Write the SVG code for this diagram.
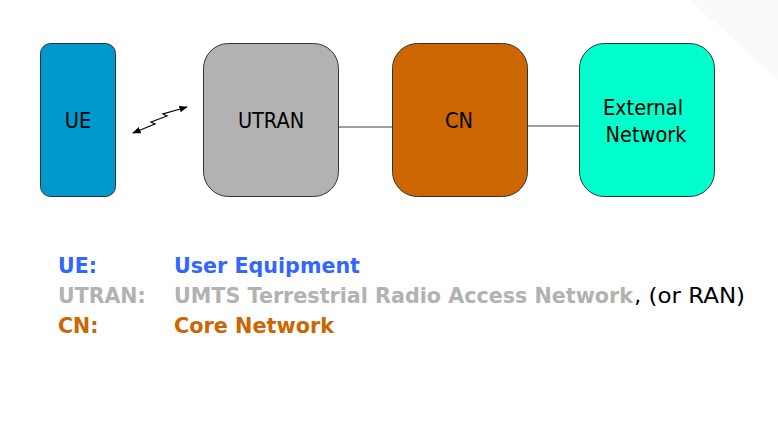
<svg xmlns="http://www.w3.org/2000/svg" width="778" height="423" viewBox="0 0 778 423">
<style>
.box{stroke:#333333;stroke-width:1}
.lbl{font-family:"DejaVu Sans Condensed","DejaVu Sans",Verdana,sans-serif;font-size:21.5px;fill:#000000;text-anchor:middle}
.leg{font-family:"DejaVu Sans",Verdana,sans-serif;font-size:20.5px;font-weight:bold}
.conn{stroke:#808080;stroke-width:1.5;fill:none}
</style>
<defs>
<marker id="ah" viewBox="0 0 10 10" refX="9" refY="5" markerWidth="7" markerHeight="7" orient="auto-start-reverse">
<path d="M0,1 L10,5 L0,9 Z" fill="#000000"/>
</marker>
<linearGradient id="shade" x1="0" y1="0" x2="1" y2="1">
<stop offset="0" stop-color="#ffffff"/>
<stop offset="1" stop-color="#f6f6f6"/>
</linearGradient>
</defs>
<rect width="778" height="423" fill="#ffffff"/>
<polygon points="690,0 778,0 778,80" fill="#fafafa"/>
<g id="connectors">
<line class="conn" x1="338" y1="127" x2="392" y2="127"/>
<line class="conn" x1="527" y1="126" x2="579" y2="126"/>
<path d="M133,133 L155,124 L151,122 L167,116 L163,114 L187,107" fill="none" stroke="#000000" stroke-width="1.2" marker-start="url(#ah)" marker-end="url(#ah)"/>
</g>
<g id="ue">
<rect class="box" x="40.5" y="43.5" width="75" height="153" rx="10" fill="#0099cc"/>
<text class="lbl" x="78" y="128">UE</text>
</g>
<g id="utran">
<rect class="box" x="203.5" y="43.5" width="135" height="153" rx="25" fill="#b2b2b2"/>
<text class="lbl" x="271" y="128">UTRAN</text>
</g>
<g id="cn">
<rect class="box" x="392.5" y="43.5" width="135" height="153" rx="25" fill="#cc6600"/>
<text class="lbl" x="459" y="128">CN</text>
</g>
<g id="external">
<rect class="box" x="579.5" y="43.5" width="135" height="153" rx="25" fill="#00ffcc"/>
<text class="lbl" x="643" y="115">External</text>
<text class="lbl" x="646" y="142">Network</text>
</g>
<g id="legend">
<text class="leg" x="58" y="273" fill="#3366ff">UE:</text>
<text class="leg" x="174" y="273" fill="#3366ff" textLength="186" lengthAdjust="spacingAndGlyphs">User Equipment</text>
<text class="leg" x="58" y="303" fill="#b2b2b2">UTRAN:</text>
<text class="leg" x="174" y="303" fill="#b2b2b2" textLength="459" lengthAdjust="spacingAndGlyphs">UMTS Terrestrial Radio Access Network</text>
<text x="634" y="303" fill="#000000" font-family="DejaVu Sans Condensed,DejaVu Sans,sans-serif" font-size="22" textLength="111" lengthAdjust="spacingAndGlyphs">, (or RAN)</text>
<text class="leg" x="58" y="333" fill="#cc6600">CN:</text>
<text class="leg" x="174" y="333" fill="#cc6600" textLength="160" lengthAdjust="spacingAndGlyphs">Core Network</text>
</g>
</svg>
